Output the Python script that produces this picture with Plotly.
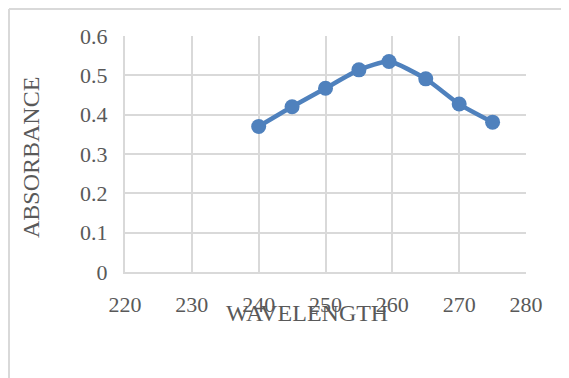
import plotly.graph_objects as go

wavelength = [240, 245, 250, 255, 259.5, 265, 270, 275]
absorbance = [0.370, 0.420, 0.467, 0.514, 0.535, 0.491, 0.427, 0.381]

FONT = "Liberation Serif"
TXT = "#595959"
GRID = "#d9d9d9"

fig = go.Figure(go.Scatter(
    x=wavelength, y=absorbance, mode="lines+markers",
    line=dict(color="#4f81bd", width=4.5, shape="spline", smoothing=0.6),
    marker=dict(color="#4f81bd", size=15),
))

OFF = 8  # page body margin
W, H = 569, 378
# plot area in screen pixels
SX0, SX1, SY0, SY1 = 125, 526, 36, 272
L = SX0 - OFF
T = SY0 - OFF
R = W - (SX1 - OFF)
B = H - (SY1 - OFF)
pw, ph = W - L - R, H - T - B

def px_x(px):
    return (px - SX0) / pw

def px_y(py):
    return (SY1 - py) / ph

fig.update_layout(
    width=W, height=H,
    margin=dict(l=L, r=R, t=T, b=B, autoexpand=False),
    paper_bgcolor="white", plot_bgcolor="white",
    showlegend=False,
    font=dict(family=FONT, color=TXT, size=22),
    xaxis=dict(range=[220, 280], dtick=10, tick0=220, showgrid=True, gridcolor=GRID,
               gridwidth=2, showline=True, linecolor=GRID, linewidth=2, zeroline=False,
               automargin=False,
               ticks="", ticklabelstandoff=12, tickfont=dict(size=22, family=FONT, color=TXT)),
    yaxis=dict(range=[0, 0.6], dtick=0.1, tick0=0, showgrid=True, gridcolor=GRID,
               gridwidth=2, showline=True, linecolor=GRID, linewidth=2, zeroline=False,
               automargin=False,
               ticks="", ticklabelstandoff=11, tickfont=dict(size=22, family=FONT, color=TXT)),
    shapes=[
        dict(type="line", xref="paper", yref="paper", x0=px_x(9), x1=px_x(600), y0=px_y(9), y1=px_y(9),
             line=dict(color=GRID, width=2)),
        dict(type="line", xref="paper", yref="paper", x0=px_x(9), x1=px_x(9), y0=px_y(9), y1=px_y(400),
             line=dict(color=GRID, width=2)),
    ],
    annotations=[
        dict(text="WAVELENGTH", xref="paper", yref="paper", x=px_x(307), y=px_y(313),
             showarrow=False, font=dict(size=24, family=FONT, color=TXT), xanchor="center", yanchor="middle"),
        dict(text="ABSORBANCE", xref="paper", yref="paper", x=px_x(31), y=px_y(158),
             showarrow=False, textangle=-90, font=dict(size=24, family=FONT, color=TXT),
             xanchor="center", yanchor="middle"),
    ],
)

fig.write_html("out.html")
